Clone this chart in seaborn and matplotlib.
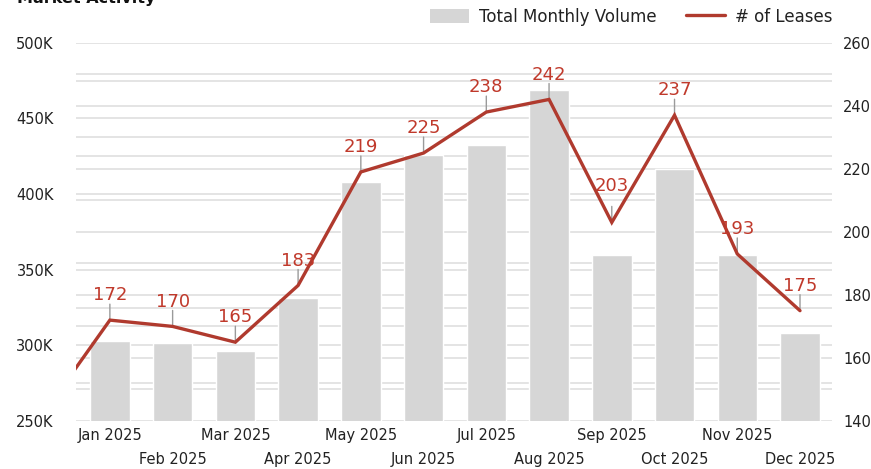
import numpy as np
import pandas as pd
import matplotlib.pyplot as plt
import seaborn as sns
from matplotlib.patches import Patch
from matplotlib.lines import Line2D

# data
months = ["Jan 2025", "Feb 2025", "Mar 2025", "Apr 2025", "May 2025", "Jun 2025",
          "Jul 2025", "Aug 2025", "Sep 2025", "Oct 2025", "Nov 2025", "Dec 2025"]
volume = [303100, 301500, 296300, 331100, 407800, 426000,
          432200, 468800, 359700, 416300, 359700, 308400]
leases = [172, 170, 165, 183, 219, 225, 238, 242, 203, 237, 193, 175]
prior_leases = 144  # Dec 2024, only its segment shows at the left edge

bar_color = "#d6d6d6"
line_color = "#b03a2e"
label_color = "#c0392b"

sns.set_style("white")
plt.rcParams["font.family"] = ["DejaVu Sans"]
plt.rcParams["text.color"] = "#222222"

fig = plt.figure(figsize=(8.71, 4.69), dpi=100)
ax = fig.add_axes([76 / 871, 1 - 421 / 469, (832 - 76) / 871, (421 - 42.7) / 469])

pos = np.arange(len(months))
df = pd.DataFrame({"pos": pos, "volume": volume})
sns.barplot(data=df, x="pos", y="volume", native_scale=True, color=bar_color,
            saturation=1, width=0.63, ax=ax, zorder=2)

ax2 = ax.twinx()
line_df = pd.DataFrame({"pos": np.arange(-1, len(months)), "leases": [prior_leases] + leases})
sns.lineplot(data=line_df, x="pos", y="leases", color=line_color, lw=2.4, ax=ax2,
             solid_joinstyle="miter", zorder=3)

ax.set_xlim(-0.54, 11.51)
ax.set_ylim(250000, 500000)
ax2.set_ylim(140, 260)

# left axis ticks
left_ticks = np.arange(250000, 500001, 50000)
ax.set_yticks(left_ticks, [f"{int(v / 1000)}K" for v in left_ticks])
# gridlines for both axes drawn on the left axis
left_minor = np.arange(250000, 500001, 25000)
right_minor = 250000 + (np.arange(140, 261, 10) - 140) / 120 * 250000
ax.set_yticks(np.union1d(left_minor, right_minor), minor=True)
ax.grid(True, which="both", axis="y", color="#e2e2e2", lw=1.3)
ax.xaxis.grid(False)
ax.set_axisbelow(True)

ax2.set_yticks(np.arange(140, 261, 20))
ax2.grid(False)

# staggered x labels: odd months on a second row
ax.set_xticks(pos[::2], months[::2])
ax.set_xticks(pos[1::2], months[1::2], minor=True)

ax.tick_params(which="both", length=0)
ax.tick_params(axis="y", pad=16, labelsize=10.5, labelcolor="#222222")
ax.tick_params(axis="x", which="major", pad=5, labelsize=10.5, labelcolor="#222222")
ax.tick_params(axis="x", which="minor", pad=22, labelsize=10.5, labelcolor="#222222")
ax2.tick_params(axis="y", length=0, pad=8, labelsize=10.5, labelcolor="#222222")
ax.set_xlabel("")
ax.set_ylabel("")
ax2.set_xlabel("")
ax2.set_ylabel("")
for a in (ax, ax2):
    for s in a.spines.values():
        s.set_visible(False)

# point labels with leader lines
label_offset = {8: 22.5}
for i, v in enumerate(leases):
    ax2.annotate("", xy=(i, v), xytext=(0, 11.5), textcoords="offset points",
                 arrowprops=dict(arrowstyle="-", color="#9a9a9a", lw=1,
                                 shrinkA=0, shrinkB=1), zorder=2)
    ax2.annotate(str(v), xy=(i, v), xytext=(0, label_offset.get(i, 14.3)),
                 textcoords="offset points", ha="center", va="baseline",
                 fontsize=13, color=label_color, zorder=4)

handles = [Patch(facecolor=bar_color, edgecolor="none", label="Total Monthly Volume"),
           Line2D([0], [0], color=line_color, lw=2.4, label="# of Leases")]
ax2.legend(handles=handles, loc="lower right", bbox_to_anchor=(1.0, 1.045), ncol=2,
           frameon=False, fontsize=12, borderaxespad=0, borderpad=0,
           handlelength=2.3, handleheight=1.0, handletextpad=0.6, columnspacing=1.8)

fig.text(17 / 871, 1 - 3 / 469, "Market Activity", fontsize=11.5, fontweight="bold",
         va="baseline", ha="left", color="#111111")

fig.savefig("out.png", dpi=100)
